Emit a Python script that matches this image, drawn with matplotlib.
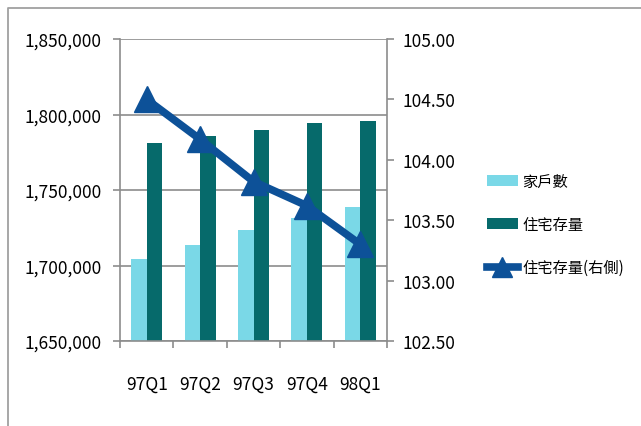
import matplotlib.pyplot as plt
import numpy as np
from matplotlib.lines import Line2D

plt.rcParams['font.family'] = ['Noto Sans CJK TC', 'DejaVu Sans']

quarters = ['97Q1', '97Q2', '97Q3', '97Q4', '98Q1']
households = [1704300, 1713600, 1723700, 1731500, 1738500]
housing_stock = [1780900, 1785600, 1789900, 1794400, 1795500]
stock_ratio = [104.50, 104.17, 103.82, 103.62, 103.30]

c_light = '#7AD8E7'
c_dark = '#066A6B'
c_line = '#0D5198'
c_axis = '#8C8C8C'

fig = plt.figure(figsize=(6.41, 4.27), dpi=100)
ax = fig.add_axes([120 / 641, 1 - 342 / 427, 267 / 641, 302 / 427])
ax2 = ax.twinx()

x = np.arange(len(quarters))
w = 0.29
ax.bar(x - w / 2, households, width=w, color=c_light, label='家戶數', zorder=2)
ax.bar(x + w / 2, housing_stock, width=w, color=c_dark, label='住宅存量', zorder=2)
ax2.plot(x, stock_ratio, color=c_line, linewidth=5.5, marker='^', markersize=19,
         label='住宅存量(右側)', zorder=3)

ax.set_xlim(-0.5, 4.5)
ax.set_ylim(1650000, 1850000)
ax.set_yticks(np.arange(1650000, 1850001, 50000))
ax.set_yticklabels([f'{v:,}' for v in range(1650000, 1850001, 50000)])
ax.yaxis.grid(True, color=c_axis, linewidth=1.2, zorder=0)
ax.set_axisbelow(True)

ax2.set_ylim(102.5, 105.0)
ax2.set_yticks(np.arange(102.5, 105.01, 0.5))
ax2.set_yticklabels([f'{v:.2f}' for v in np.arange(102.5, 105.01, 0.5)])

ax.set_xticks(x)
ax.set_xticklabels(quarters)
ax.set_xticks(np.arange(-0.5, 5, 1), minor=True)
ax.tick_params(axis='x', which='major', length=0, pad=24)
ax.tick_params(axis='x', which='minor', length=5, color=c_axis, width=1.2)
ax.tick_params(axis='y', length=5, color=c_axis, width=1.2, pad=8)
ax2.tick_params(axis='y', length=5, color=c_axis, width=1.2, pad=6)
for a in (ax, ax2):
    for s in a.spines.values():
        s.set_visible(False)
    a.tick_params(labelsize=12.5)
ax.spines['left'].set_visible(True)
ax.spines['bottom'].set_visible(True)
ax2.spines['right'].set_visible(True)
for s in (ax.spines['left'], ax.spines['bottom'], ax2.spines['right']):
    s.set_color(c_axis)
    s.set_linewidth(1.2)

h1, l1 = ax.get_legend_handles_labels()
h2, l2 = ax2.get_legend_handles_labels()
fig.legend(h1 + h2, l1 + l2, loc='upper left', bbox_to_anchor=(481 / 641, 1 - 168 / 427),
           frameon=False, fontsize=11, labelspacing=1.7, handlelength=2.0,
           handletextpad=0.3, borderaxespad=0, markerscale=0.75)

fig.add_artist(Line2D([8 / 641, 8 / 641, 1], [0, 1 - 9 / 427, 1 - 9 / 427],
                      color='#A0A0A0', linewidth=1.3))

fig.savefig('out.png', dpi=100)
